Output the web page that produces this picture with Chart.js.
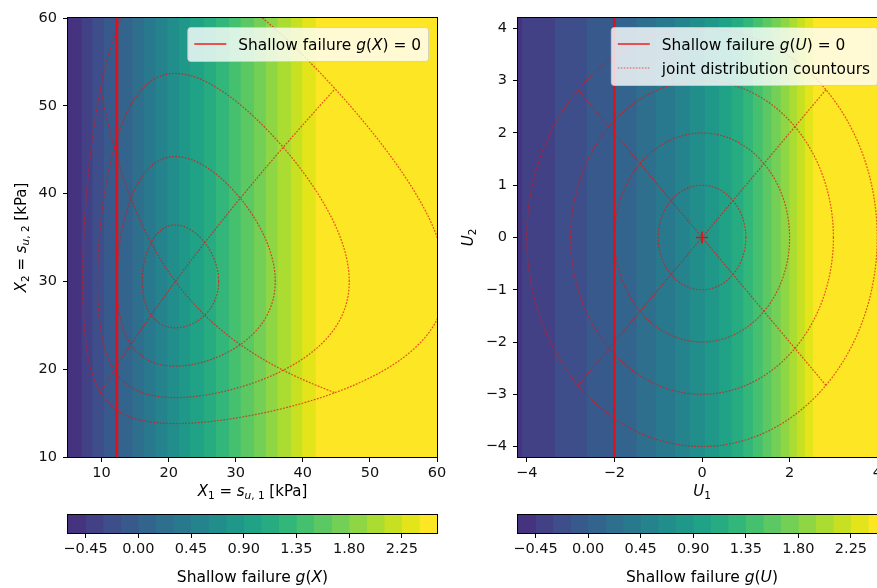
<!DOCTYPE html>
<html>
<head>
<meta charset="utf-8">
<script src="https://cdn.jsdelivr.net/npm/chart.js@4.4.0/dist/chart.umd.min.js"></script>
<style>
  html, body { margin: 0; padding: 0; background: #fff; overflow: hidden; width: 877px; height: 588px; }
  canvas { position: absolute; }
</style>
</head>
<body>
<canvas id="leftPlot" width="480" height="510" style="left:0;top:0"></canvas>
<canvas id="rightPlot" width="470" height="510" style="left:440px;top:0"></canvas>
<canvas id="leftBar" width="480" height="88" style="left:0;top:500px"></canvas>
<canvas id="rightBar" width="470" height="88" style="left:440px;top:500px"></canvas>
<script>
// ---- data -------------------------------------------------------------
// Filled-contour levels of the limit state function g
const gLevels = [-0.6, -0.45, -0.3, -0.15, 0, 0.15, 0.3, 0.45, 0.6, 0.75, 0.9, 1.05,
                 1.2, 1.35, 1.5, 1.65, 1.8, 1.95, 2.1, 2.25, 2.4, 2.55];
// Where g crosses the inner levels (-0.45 ... 2.4) along X1 and along U1
const xLevelCross = [7.0, 8.6, 10.35, 12.4, 14.6, 16.3, 18.0, 19.8, 21.5, 23.2,
                     25.2, 27.0, 29.0, 30.7, 32.7, 34.5, 36.2, 38.2, 39.9, 41.9];
const uLevelCross = [-4.11, -3.36, -2.64, -2.0, -1.50, -1.06, -0.62, -0.28, 0.06, 0.39,
                     0.67, 0.94, 1.16, 1.38, 1.58, 1.79, 1.99, 2.17, 2.34, 2.53];
// Limit state g = 0 (shallow failure)
const xLimit = 12.3;
const uLimit = -2.0;
// Standard normal contour radii and the two diagonal rays (radius, angle in degrees)
const contourRadii = [1, 2, 3, 4];
const diagonals = [[4, 135, 4, 315], [4, 225, 4, 45]];
// Lognormal marginals: median and log standard deviation of X1 and X2
const x1Median = 21, x1LogStd = 0.268;
const x2Median = 30, x2LogStd = 0.194;
// Axis ranges and tick labels
const xRangeL = [5, 60], yRangeL = [10, 60];
const uRange = [-4.2, 4.2];
const xTicksL = [10, 20, 30, 40, 50, 60];
const yTicksL = [10, 20, 30, 40, 50, 60];
const uTicksX = [-4, -2, 0, 2, 4];
const uTicksY = [-4, -3, -2, -1, 0, 1, 2, 3, 4];
const cbTicks = [-0.45, 0, 0.45, 0.9, 1.35, 1.8, 2.25];

// ---- styles -----------------------------------------------------------
const FONT = '"DejaVu Sans", "Liberation Sans", sans-serif';
const viridisStops = ['#440154','#471365','#482475','#46337f','#414487','#3b528b','#355f8d',
  '#2f6c8e','#2a788e','#25848e','#21918c','#1e9c89','#22a884','#2fb47c','#44bf70','#5ec962',
  '#7ad151','#9bd93c','#bddf26','#dfe318','#fde725'];
function hex(h) { return [1, 3, 5].map(k => parseInt(h.substr(k, 2), 16)); }
function viridis(t) {
  const p = Math.max(0, Math.min(1, t)) * 20;
  const i = Math.min(19, Math.floor(p)), f = p - i;
  const a = hex(viridisStops[i]), b = hex(viridisStops[i + 1]);
  const c = a.map((v, k) => Math.round(v + (b[k] - v) * f));
  return `rgb(${c[0]},${c[1]},${c[2]})`;
}
const nBands = gLevels.length - 1;
const bandColor = i => viridis(0.15 + 0.85 * i / (nBands - 1));
const contourStyle = { borderColor: 'rgba(225,20,20,0.72)', borderWidth: 1.2, borderDash: [1.8, 1.4] };
const limitColor = 'rgb(220,18,30)';
const minus = s => String(s).replace('-', '\u2212');

// ---- geometry helpers ---------------------------------------------------
const toX = (u1, u2) => ({ x: x1Median * Math.exp(x1LogStd * u1), y: x2Median * Math.exp(x2LogStd * u2) });
function circleU(r) {
  const pts = [];
  for (let a = 0; a <= 360; a += 2) {
    const t = a * Math.PI / 180;
    pts.push({ x: r * Math.cos(t), y: r * Math.sin(t) });
  }
  return pts;
}
function segmentU(d) {
  const [r0, a0, r1, a1] = d;
  const p0 = [r0 * Math.cos(a0 * Math.PI / 180), r0 * Math.sin(a0 * Math.PI / 180)];
  const p1 = [r1 * Math.cos(a1 * Math.PI / 180), r1 * Math.sin(a1 * Math.PI / 180)];
  const pts = [];
  for (let k = 0; k <= 60; k++) {
    const s = k / 60;
    pts.push({ x: p0[0] + (p1[0] - p0[0]) * s, y: p0[1] + (p1[1] - p0[1]) * s });
  }
  return pts;
}

// ---- rich text (italic / subscript) ------------------------------------
function segFont(s, size) { return (s.it ? 'italic ' : '') + (s.sub ? size * 0.7 : size) + 'px ' + FONT; }
function richWidth(ctx, segs, size) {
  let w = 0;
  for (const s of segs) { ctx.font = segFont(s, size); w += ctx.measureText(s.t).width; }
  return w;
}
function drawRich(ctx, segs, x, y, size, align) {
  const w = richWidth(ctx, segs, size);
  let cx = align === 'center' ? x - w / 2 : align === 'right' ? x - w : x;
  ctx.textAlign = 'left'; ctx.textBaseline = 'alphabetic'; ctx.fillStyle = '#000';
  for (const s of segs) {
    ctx.font = segFont(s, size);
    ctx.fillText(s.t, cx, y + (s.sub ? size * 0.22 : 0));
    cx += ctx.measureText(s.t).width;
  }
}
function drawLegend(ctx, area, entries, size) {
  const pad = 7, sample = 32, gap = 12, rowH = 24;
  ctx.save();
  const tw = Math.max(...entries.map(e => richWidth(ctx, e.segs, size)));
  const w = pad + sample + gap + tw + pad, h = entries.length * rowH + 10;
  const right = area.right - 9, top = area.top + 9, left = right - w;
  ctx.beginPath();
  ctx.roundRect(left + 0.5, top + 0.5, w, h, 3);
  ctx.fillStyle = 'rgba(255,255,255,0.8)'; ctx.fill();
  ctx.strokeStyle = 'rgba(204,204,204,0.8)'; ctx.lineWidth = 1; ctx.stroke();
  entries.forEach((e, i) => {
    const yc = top + 5 + rowH * (i + 0.5);
    ctx.beginPath();
    ctx.setLineDash(e.dash || []);
    ctx.strokeStyle = e.color; ctx.lineWidth = e.width;
    ctx.moveTo(left + pad, yc); ctx.lineTo(left + pad + sample, yc); ctx.stroke();
    ctx.setLineDash([]);
    drawRich(ctx, e.segs, left + pad + sample + gap, yc + size * 0.36, size, 'left');
  });
  ctx.restore();
}
function framePlugin(extra) {
  return {
    id: 'frame',
    afterDatasetsDraw(chart) {
      const { ctx, chartArea: a } = chart;
      ctx.save();
      ctx.strokeStyle = '#000'; ctx.lineWidth = 1;
      ctx.strokeRect(Math.round(a.left) - 0.5, Math.round(a.top) - 0.5,
                     Math.round(a.right - a.left) + 1, Math.round(a.bottom - a.top) + 1);
      ctx.restore();
      if (extra) extra(chart);
    }
  };
}

// ---- shared scale options ----------------------------------------------
function axis(range, ticks, fixed, isY, fmt) {
  return {
    type: 'linear', min: range[0], max: range[1],
    afterBuildTicks: s => { s.ticks = ticks.map(v => ({ value: v })); },
    afterFit: s => { if (isY) s.width = fixed; else s.height = fixed; },
    grid: { display: true, drawOnChartArea: false, drawTicks: true, tickLength: 5, tickColor: '#000', tickWidth: 1 },
    border: { display: true, color: '#000', width: 1 },
    ticks: { autoSkip: false, maxRotation: 0, padding: isY ? 6 : 3, color: '#111',
             font: { family: FONT, size: 14.5 }, callback: fmt || (v => minus(v)) }
  };
}
const baseOptions = (padding) => ({
  responsive: false, animation: false, devicePixelRatio: 1,
  layout: { padding, autoPadding: false },
  plugins: { legend: { display: false }, tooltip: { enabled: false } },
  elements: { point: { radius: 0 }, line: { tension: 0 } }
});

function bandSets(lows, hi, top, firstIndex) {
  return lows.map((lo, i) => ({
    data: [{ x: lo, y: top }, { x: hi, y: top }],
    fill: 'start', backgroundColor: bandColor(i + (firstIndex || 0)), borderColor: 'rgba(0,0,0,0)', borderWidth: 0,
    pointRadius: 0, order: 100 - i, clip: 0
  }));
}
function lineSet(points, style, order) {
  return Object.assign({ data: points, fill: false, pointRadius: 0, order, clip: 0 }, style);
}

// ---- left panel: physical space X --------------------------------------
const leftSets = bandSets([xRangeL[0], ...xLevelCross], xRangeL[1], yRangeL[1]);
contourRadii.forEach(r => leftSets.push(lineSet(circleU(r).map(p => toX(p.x, p.y)), contourStyle, -1)));
diagonals.forEach(d => leftSets.push(lineSet(segmentU(d).map(p => toX(p.x, p.y)), contourStyle, -1)));
leftSets.push(lineSet([{ x: xLimit, y: yRangeL[0] }, { x: xLimit, y: yRangeL[1] }],
  { borderColor: limitColor, borderWidth: 2.6 }, -2));

new Chart(document.getElementById('leftPlot'), {
  type: 'line',
  data: { datasets: leftSets },
  options: Object.assign(baseOptions({ left: 0, top: 18, right: 43, bottom: 0 }), {
    scales: { x: axis(xRangeL, xTicksL, 53, false), y: axis(yRangeL, yTicksL, 68, true) }
  }),
  plugins: [framePlugin(chart => {
    const { ctx, chartArea: a } = chart;
    drawLegend(ctx, a, [{
      segs: [{ t: 'Shallow failure ' }, { t: 'g', it: true }, { t: '(' }, { t: 'X', it: true }, { t: ') = 0' }],
      color: 'rgb(240,30,30)', width: 1.5
    }], 15.4);
    drawRich(ctx, [{ t: 'X', it: true }, { t: '1', sub: true }, { t: ' = ' }, { t: 's', it: true },
      { t: 'u', it: true, sub: true }, { t: ', 1', sub: true }, { t: ' [kPa]' }],
      (a.left + a.right) / 2, 496, 15, 'center');
    ctx.save();
    ctx.translate(26, (a.top + a.bottom) / 2);
    ctx.rotate(-Math.PI / 2);
    drawRich(ctx, [{ t: 'X', it: true }, { t: '2', sub: true }, { t: ' = ' }, { t: 's', it: true },
      { t: 'u', it: true, sub: true }, { t: ', 2', sub: true }, { t: ' [kPa]' }], 0, 0, 15, 'center');
    ctx.restore();
  })]
});

// ---- right panel: standard normal space U -------------------------------
const hiddenBands = uLevelCross.filter(u => u <= uRange[0]).length;
const rightSets = bandSets([uRange[0], ...uLevelCross.filter(u => u > uRange[0])], uRange[1], uRange[1], hiddenBands);
contourRadii.forEach(r => rightSets.push(lineSet(circleU(r), contourStyle, -1)));
diagonals.forEach(d => rightSets.push(lineSet(segmentU(d), contourStyle, -1)));
rightSets.push(lineSet([{ x: uLimit, y: uRange[0] }, { x: uLimit, y: uRange[1] }],
  { borderColor: limitColor, borderWidth: 2.6 }, -2));
rightSets.push({ data: [{ x: 0, y: 0 }], showLine: false, pointStyle: 'cross', pointRadius: 6,
  borderColor: 'rgb(255,0,0)', borderWidth: 1.5, order: -3, clip: 0 });

new Chart(document.getElementById('rightPlot'), {
  type: 'line',
  data: { datasets: rightSets },
  options: Object.assign(baseOptions({ left: 0, top: 18, right: 24, bottom: 0 }), {
    scales: { x: axis(uRange, uTicksX, 53, false), y: axis(uRange, uTicksY, 78, true) }
  }),
  plugins: [framePlugin(chart => {
    const { ctx, chartArea: a } = chart;
    drawLegend(ctx, a, [
      { segs: [{ t: 'Shallow failure ' }, { t: 'g', it: true }, { t: '(' }, { t: 'U', it: true }, { t: ') = 0' }],
        color: 'rgb(240,30,30)', width: 1.5 },
      { segs: [{ t: 'joint distribution countours' }], color: 'rgba(235,40,40,0.75)', width: 1, dash: [1.6, 1.4] }
    ], 15.4);
    drawRich(ctx, [{ t: 'U', it: true }, { t: '1', sub: true }], (a.left + a.right) / 2, 496, 15, 'center');
    ctx.save();
    ctx.translate(33, (a.top + a.bottom) / 2);
    ctx.rotate(-Math.PI / 2);
    drawRich(ctx, [{ t: 'U', it: true }, { t: '2', sub: true }], 0, 0, 15, 'center');
    ctx.restore();
  })]
});

// ---- colour bars ---------------------------------------------------------
function colourBar(id, padRight, varName) {
  const sets = bandSets(gLevels.slice(0, nBands), gLevels[nBands], 1);
  new Chart(document.getElementById(id), {
    type: 'line',
    data: { datasets: sets },
    options: Object.assign(baseOptions({ left: id === 'leftBar' ? 68 : 78, top: 15, right: padRight, bottom: 0 }), {
      scales: {
        x: axis([gLevels[0], gLevels[nBands]], cbTicks, 55, false, v => minus(v.toFixed(2))),
        y: { type: 'linear', min: 0, max: 1, display: false }
      }
    }),
    plugins: [framePlugin(chart => {
      const { ctx, chartArea: a } = chart;
      drawRich(ctx, [{ t: 'Shallow failure ' }, { t: 'g', it: true }, { t: '(' }, { t: varName, it: true }, { t: ')' }],
        (a.left + a.right) / 2, 82, 15.5, 'center');
    })]
  });
}
colourBar('leftBar', 43, 'X');
colourBar('rightBar', 24, 'U');
</script>
</body>
</html>
